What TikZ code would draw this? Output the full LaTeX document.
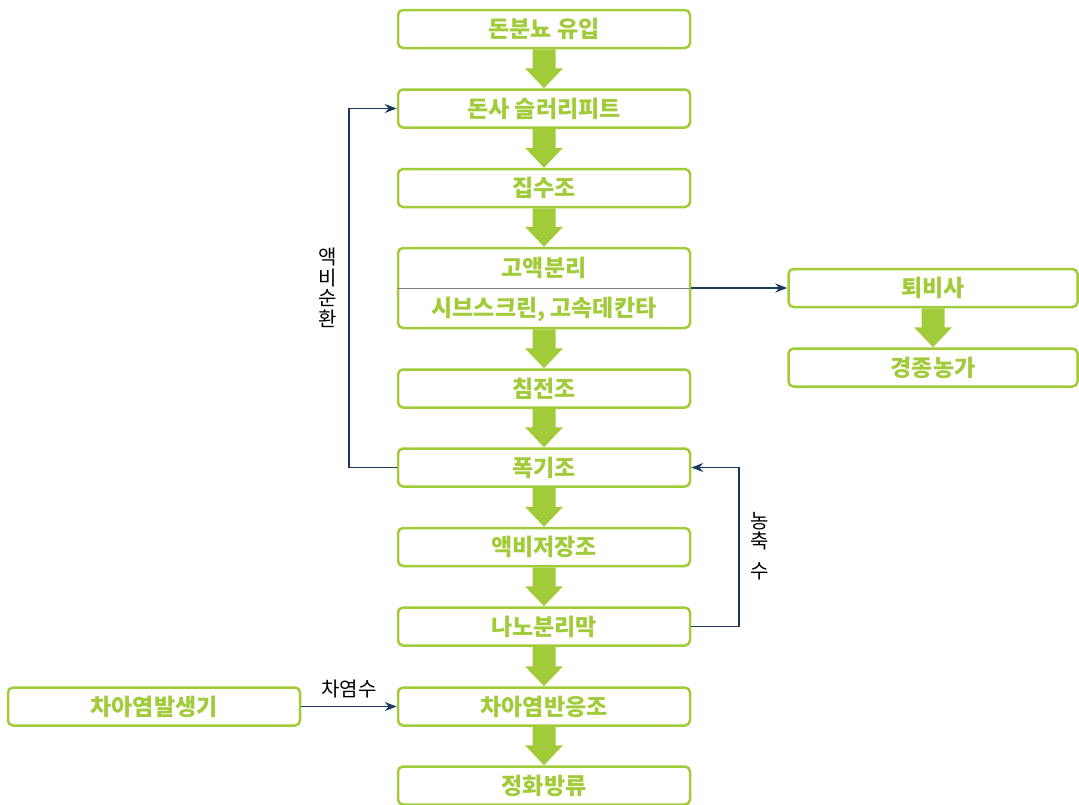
\documentclass[tikz,border=0pt]{standalone}
\usepackage{fontspec}
\setmainfont{Noto Sans CJK KR}
\usetikzlibrary{calc,arrows.meta}
\definecolor{lg}{HTML}{A2CB3A}
\definecolor{nv}{HTML}{1B3A5E}
\tikzset{
  box/.style={draw=lg, line width=2.5pt, rounded corners=5pt, minimum width=292pt, minimum height=38pt, inner sep=0pt, text=lg, font=\fontsize{23}{26}\selectfont\bfseries},
  txt/.style={text=lg, font=\fontsize{23}{26}\selectfont\bfseries, inner sep=0pt},
  lbl/.style={text=black, font=\fontsize{20}{20.5}\selectfont, inner sep=0pt, align=center},
  conn/.style={draw=nv, line width=1.2pt, -{Stealth[length=12pt,width=9pt]}},
  fat/.style={fill=lg, draw=none}
}
\newcommand{\fatarr}[2]{\fill[fat] ($(#1.south)+(-11.5,0)$) -- ($(#2.north)+(-11.5,-20)$) -- ($(#2.north)+(-19,-20)$) -- (#2.north) -- ($(#2.north)+(19,-20)$) -- ($(#2.north)+(11.5,-20)$) -- ($(#1.south)+(11.5,0)$) -- cycle;}
\begin{document}
\begin{tikzpicture}[x=1pt,y=-1pt]
\useasboundingbox (0,0) rectangle (1079,804);
\node[box] (b1) at (544,29) {돈분뇨 유입};
\node[box] (b2) at (544,108.5) {돈사 슬러리피트};
\node[box] (b3) at (544,188) {집수조};
\node[box, minimum height=80pt] (b4) at (544,288) {};
\draw[gray, line width=1pt] ($(b4.west)+(1.2,0)$) coordinate (dl) -- ($(b4.east)+(-1.2,0)$) coordinate (dr);
\node[txt] (b4a) at (544,268) {고액분리};
\node[txt] (b4b) at (544,309) {시브스크린, 고속데칸타};
\node[box] (b5) at (544,388.5) {침전조};
\node[box] (b6) at (544,467.5) {폭기조};
\node[box] (b7) at (544,547) {액비저장조};
\node[box] (b8) at (544,626.5) {나노분리막};
\node[box] (b9) at (544,706.5) {차아염반응조};
\node[box] (b10) at (544,785.5) {정화방류};
\node[box, minimum width=289pt] (r1) at (933,288) {퇴비사};
\node[box, minimum width=289pt] (r2) at (933,367.5) {경종농가};
\node[box] (l1) at (154,706.5) {차아염발생기};
\fatarr{b1}{b2}
\fatarr{b2}{b3}
\fatarr{b3}{b4}
\fatarr{b4}{b5}
\fatarr{b5}{b6}
\fatarr{b6}{b7}
\fatarr{b7}{b8}
\fatarr{b8}{b9}
\fatarr{b9}{b10}
\fatarr{r1}{r2}
\draw[conn] (b4.east) -- (r1.west);
\draw[conn] (l1.east) -- node[lbl, above=8pt] {차염수} (b9.west);
\draw[conn] (b6.west) -- (349,467.5) -- (349,108.5) -- (b2.west);
\node[lbl] (lab1) at (328,288) {액\\비\\순\\환};
\draw[conn] (b8.east) -- (739,626.5) -- (739,467.5) -- (b6.east);
\node[lbl] (lab2) at (760,546) {농\\축\\[9pt]수};
\end{tikzpicture}
\end{document}
